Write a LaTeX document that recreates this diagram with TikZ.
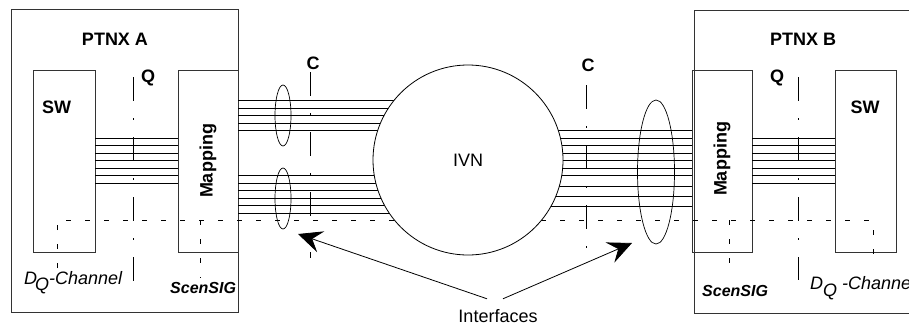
\documentclass[tikz,border=0pt]{standalone}
\usepackage{fontspec}
\setmainfont{Liberation Sans}
\usetikzlibrary{arrows.meta,shapes.geometric}
\tikzset{
  unit/.style={draw=black!80, line width=0.8pt, inner sep=0pt},
  wire/.style={line width=0.7pt},
  refline/.style={line width=0.7pt, dash pattern=on 24pt off 17pt on 2pt off 17pt},
  sigline/.style={line width=0.7pt, dash pattern=on 5pt off 14pt},
  bundle/.style={draw, ellipse, line width=0.7pt, inner sep=0pt},
  pointer/.style={-{Stealth[length=24pt,width=22pt,inset=9pt]}, line width=0.8pt},
  head/.style={font=\fontsize{18}{20}\selectfont\bfseries, inner sep=0pt},
  plain/.style={font=\fontsize{18}{20}\selectfont, inner sep=0pt},
  note/.style={font=\fontsize{18}{20}\selectfont\itshape, inner sep=0pt, anchor=base west},
  sig/.style={font=\fontsize{16}{18}\selectfont\bfseries\itshape, inner sep=0pt, anchor=base west}
}

\begin{document}
\begin{tikzpicture}[x=1pt,y=-1pt]
  \useasboundingbox (0,0) rectangle (909,324);
  \clip (0,0) rectangle (909,324);

  % exchanges A and B
  \node[unit, minimum width=227pt, minimum height=303pt] (ptnxA) at (124.5,160.5) {};
  \node[unit, minimum width=62pt, minimum height=182pt] (swA) at (64,161) {};
  \node[unit, minimum width=60pt, minimum height=182pt] (mapA) at (208,161) {};
  \node[unit, minimum width=221pt, minimum height=303pt] (ptnxB) at (804.5,161.5) {};
  \node[unit, minimum width=60pt, minimum height=182pt] (mapB) at (722,161) {};
  \node[unit, minimum width=61pt, minimum height=182pt] (swB) at (865.5,161) {};

  \node[head] (labA) at (115,39) {PTNX A};
  \node[head] (labB) at (803,39) {PTNX B};
  \node[head] (swtA) at (56.5,107) {SW};
  \node[head] (swtB) at (865,107) {SW};
  \node[head, rotate=90] (maptA) at (208,161) {Mapping};
  \node[head, rotate=90] (maptB) at (722,159) {Mapping};
  \node[head] (qA) at (148,78) {Q};
  \node[head] (qB) at (777,78) {Q};
  \node[head] (cL) at (313,63) {C};
  \node[head] (cR) at (588,65) {C};

  % trunks
  \coordinate (ivnc) at (468,160);
  \foreach \y in {138,145.5,153,160.5,168,175.5,183} {
    \draw[wire] (swA.east |- 0,\y) -- (mapA.west |- 0,\y);
    \draw[wire] (mapB.east |- 0,\y) -- (swB.west |- 0,\y);
  }
  \foreach \y in {100.5,108,115.5,123,130.5, 175.5,183,190.5,198,205.5,213}
    \draw[wire] (mapA.east |- 0,\y) -- (ivnc |- 0,\y);
  \foreach \y in {130.5,138,145.5,153,160.5,168,175.5,186,196.5,206}
    \draw[wire] (ivnc |- 0,\y) -- (mapB.west |- 0,\y);

  % signalling path
  \coordinate (dqA) at (57,268);
  \coordinate (dqB) at (873,266);
  \coordinate (sigrow) at (468,220);
  \coordinate (scenA) at (200,278);
  \coordinate (scenB) at (729,274);
  \draw[sigline] (dqA) |- (sigrow) -| (dqB);
  \draw[sigline] (scenA |- sigrow) -- (scenA);
  \draw[sigline] (scenB |- sigrow) -- (scenB);

  \node[unit, circle, minimum size=190pt, fill=white, draw=black] (ivn) at (ivnc) {};
  \node[plain] (ivnt) at (ivnc) {IVN};

  % reference points
  \coordinate (qAtop) at (133,77);
  \coordinate (qAbot) at (133,281);
  \coordinate (qBtop) at (798,77);
  \coordinate (qBbot) at (798,280);
  \coordinate (cLtop) at (310,72);
  \coordinate (cLbot) at (310,258);
  \coordinate (cRtop) at (586,85);
  \coordinate (cRbot) at (586,248);
  \draw[refline] (qAtop) -- (qAbot);
  \draw[refline] (qBtop) -- (qBbot);
  \draw[refline] (cLtop) -- (cLbot);
  \draw[refline] (cRtop) -- (cRbot);

  \node[bundle, minimum width=16pt, minimum height=61pt] (grpA1) at (283,115.5) {};
  \node[bundle, minimum width=16pt, minimum height=61pt] (grpA2) at (283,198.5) {};
  \node[bundle, minimum width=37pt, minimum height=144pt] (grpB) at (656,172) {};

  \node[note] (dqtA) at (24,284) {D\kern-2pt\raisebox{-6pt}{Q}-Channel};
  \node[note] (dqtB) at (810,289) {D\raisebox{-7pt}{Q} -Channel};
  \node[sig] (sigA) at (170,293) {ScenSIG};
  \node[sig] (sigB) at (702,296) {ScenSIG};

  % interfaces
  \node[plain, anchor=base] (intf) at (498,322) {Interfaces};
  \coordinate (ifL) at (298,234);
  \coordinate (ifR) at (632,243);
  \draw[pointer] ([xshift=-11pt,yshift=10pt]intf.north) -- (ifL);
  \draw[pointer] ([xshift=5pt,yshift=10pt]intf.north) -- (ifR);
\end{tikzpicture}
\end{document}
